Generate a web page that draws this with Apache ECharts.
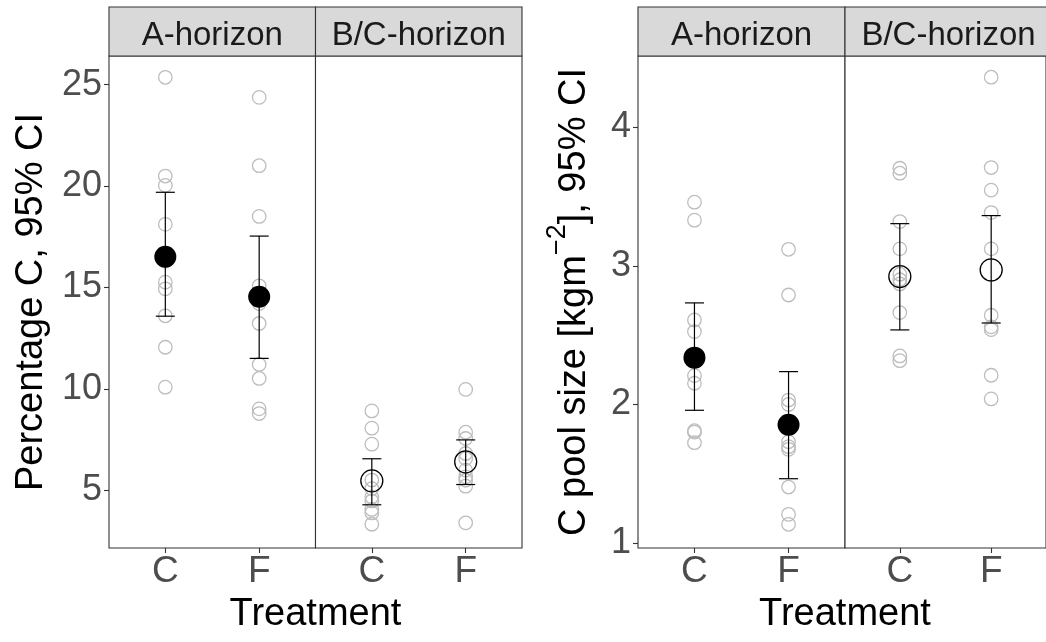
<!DOCTYPE html>
<html>
<head>
<meta charset="utf-8">
<script src="https://cdn.jsdelivr.net/npm/echarts@6/dist/echarts.min.js"></script>
<style>
html,body{margin:0;padding:0;background:#fff;}
#chart{width:1046px;height:642px;}
</style>
</head>
<body>
<div id="chart"></div>
<script>
// ---------- data ----------
const treatments = ['C', 'F'];
const horizons = ['A-horizon', 'B/C-horizon'];
const xTitle = 'Treatment';

// Percentage C: individual observations
const pctA_C = [25.36, 20.49, 20.03, 18.11, 16.3, 15.26, 14.93, 13.60, 12.05, 10.08];
const pctA_F = [24.37, 21.0, 18.5, 15.08, 14.2, 13.22, 11.2, 10.51, 9.01, 8.78];
const pctB_C = [8.91, 8.06, 7.27, 5.5, 5.08, 4.67, 4.47, 4.05, 3.88, 3.32];
const pctB_F = [9.97, 7.86, 7.55, 6.81, 6.56, 5.99, 5.66, 5.49, 5.20, 3.39];
// Percentage C: mean and 95% CI  (C, F)
const pctMeanA = [16.51, 14.54];
const pctLowA  = [13.58, 11.50];
const pctHighA = [19.69, 17.53];
const pctMeanB = [5.46, 6.40];
const pctLowB  = [4.28, 5.28];
const pctHighB = [6.55, 7.48];
const pctTicks = [5, 10, 15, 20, 25];

// C pool size: individual observations
const poolA_C = [3.46, 3.33, 2.61, 2.526, 2.208, 2.153, 1.811, 1.80, 1.724];
const poolA_F = [3.12, 2.79, 2.032, 2.0, 1.731, 1.695, 1.676, 1.404, 1.207, 1.135];
const poolB_C = [3.705, 3.669, 3.32, 3.123, 2.94, 2.90, 2.87, 2.663, 2.35, 2.316];
const poolB_F = [4.362, 3.71, 3.547, 3.385, 3.123, 2.644, 2.56, 2.54, 2.211, 2.04];
// C pool size: mean and 95% CI (C, F)
const poolMeanA = [2.338, 1.854];
const poolLowA  = [1.958, 1.464];
const poolHighA = [2.733, 2.237];
const poolMeanB = [2.923, 2.971];
const poolLowB  = [2.538, 2.588];
const poolHighB = [3.305, 3.363];
const poolTicks = [1, 2, 3, 4];

// ---------- layout ----------
const FONT = "'Liberation Sans', Arial, Helvetica, sans-serif";
const TOP = 56, H = 492, STRIP_TOP = 7;
const panels = [
  { lefts: [109, 315.5], width: 206.5, ymin: 2.15, ymax: 26.41, ticks: pctTicks,
    raw: [[pctA_C, pctA_F], [pctB_C, pctB_F]],
    mean: [pctMeanA, pctMeanB], low: [pctLowA, pctLowB], high: [pctHighA, pctHighB],
    name: 'Percentage C, 95% CI', nameGap: 58 },
  { lefts: [638, 845], width: 207, ymin: 0.964, ymax: 4.515, ticks: poolTicks,
    raw: [[poolA_C, poolA_F], [poolB_C, poolB_F]],
    mean: [poolMeanA, poolMeanB], low: [poolLowA, poolLowB], high: [poolHighA, poolHighB],
    name: '{a|C pool size [kgm}{s|\u22122}{a|], 95% CI}', nameGap: 44 }
];

const grids = [], xAxes = [], yAxes = [], series = [], graphics = [];
let gi = 0;
panels.forEach((p, pi) => {
  p.lefts.forEach((left, fi) => {
    grids.push({ left: left, top: TOP, width: p.width, height: H, show: true,
      borderColor: '#333333', borderWidth: 1.1, backgroundColor: '#ffffff', containLabel: false });
    xAxes.push({ type: 'value', gridIndex: gi, min: 0.4, max: 2.6,
      axisLine: { show: false }, splitLine: { show: false },
      axisTick: { show: true, customValues: [1, 2], length: 5, lineStyle: { color: '#333333', width: 1.1 } },
      axisLabel: { show: true, customValues: [1, 2], margin: 5, fontSize: 37, fontFamily: FONT, color: '#4d4d4d',
        formatter: v => treatments[Math.round(v) - 1] } });
    const first = fi === 0;
    yAxes.push({ type: 'value', gridIndex: gi, min: p.ymin, max: p.ymax,
      axisLine: { show: false }, splitLine: { show: false },
      axisTick: { show: first, customValues: p.ticks, length: 5, lineStyle: { color: '#333333', width: 1.1 } },
      axisLabel: { show: first, customValues: p.ticks, margin: 7, fontSize: 36, fontFamily: FONT, color: '#4d4d4d' },
      name: first ? p.name : '', nameLocation: 'middle', nameGap: p.nameGap,
      nameTextStyle: { fontSize: 38, fontFamily: FONT, color: '#000',
        rich: { a: { fontSize: 38, fontFamily: FONT, color: '#000', lineHeight: 50, verticalAlign: 'bottom' },
                s: { fontSize: 27, fontFamily: FONT, color: '#000', lineHeight: 50, verticalAlign: 'top' } } } });

    // raw observations
    const rawData = [];
    p.raw[fi].forEach((arr, ti) => arr.forEach(v => rawData.push([ti + 1, v])));
    series.push({ type: 'scatter', xAxisIndex: gi, yAxisIndex: gi, data: rawData, symbol: 'circle', symbolSize: 13.5,
      itemStyle: { color: 'rgba(0,0,0,0)', borderColor: '#bdbdbd', borderWidth: 1.3, opacity: 1 }, silent: true, z: 2 });
    // error bars
    const ebData = treatments.map((t, ti) => [ti + 1, p.low[fi][ti], p.high[fi][ti]]);
    series.push({ type: 'custom', xAxisIndex: gi, yAxisIndex: gi, data: ebData, encode: { x: 0, y: [1, 2] }, z: 3,
      renderItem: (params, api) => {
        const x = api.value(0);
        const t = api.coord([x, api.value(2)]);
        const b = api.coord([x, api.value(1)]);
        const w = 9.5, st = { stroke: '#000', lineWidth: 1.2 };
        return { type: 'group', children: [
          { type: 'line', shape: { x1: t[0], y1: t[1], x2: b[0], y2: b[1] }, style: st },
          { type: 'line', shape: { x1: t[0] - w, y1: t[1], x2: t[0] + w, y2: t[1] }, style: st },
          { type: 'line', shape: { x1: b[0] - w, y1: b[1], x2: b[0] + w, y2: b[1] }, style: st }
        ] };
      } });
    // means
    const meanData = treatments.map((t, ti) => [ti + 1, p.mean[fi][ti]]);
    series.push({ type: 'scatter', xAxisIndex: gi, yAxisIndex: gi, data: meanData, symbol: 'circle', symbolSize: 22, z: 4,
      itemStyle: fi === 0 ? { color: '#000', opacity: 1 } : { color: 'rgba(0,0,0,0)', borderColor: '#000', borderWidth: 1.3, opacity: 1 } });

    // strip
    graphics.push({ type: 'rect', shape: { x: left, y: STRIP_TOP, width: p.width, height: TOP - STRIP_TOP },
      style: { fill: '#d9d9d9', stroke: '#333333', lineWidth: 1.1 }, z: 10 });
    graphics.push({ type: 'text', x: left + p.width / 2, y: 36,
      style: { text: horizons[fi], fontSize: 33, fontFamily: FONT, fill: '#1a1a1a', align: 'center', verticalAlign: 'middle' }, z: 11 });
    gi++;
  });
  // x title
  graphics.push({ type: 'text', x: p.lefts[0] + p.width, y: 615,
    style: { text: xTitle, fontSize: 38, fontFamily: FONT, fill: '#000', align: 'center', verticalAlign: 'middle' }, z: 11 });
});

const chart = echarts.init(document.getElementById('chart'), null, { renderer: 'canvas' });
chart.setOption({
  backgroundColor: '#ffffff',
  animation: false,
  grid: grids, xAxis: xAxes, yAxis: yAxes, series: series,
  graphic: { elements: graphics }
});
</script>
</body>
</html>
